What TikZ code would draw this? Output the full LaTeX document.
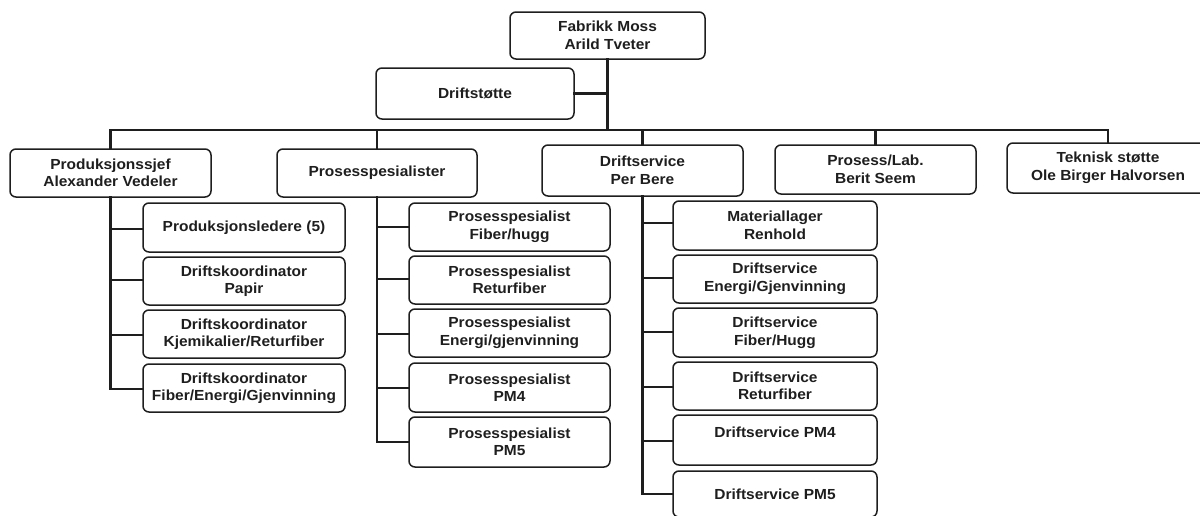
\documentclass[tikz,border=0pt]{standalone}
\usepackage{fontspec}
\setmainfont{Liberation Sans}[FakeStretch=1.06]
\definecolor{ink}{HTML}{1E1E1E}
\begin{document}
\begin{tikzpicture}[x=1pt,y=-1pt,
  box/.style={draw=ink,line width=1.5pt,rounded corners=6pt,rectangle,
    inner sep=0pt,align=center,text=ink,
    font=\fontsize{14.6}{17.5}\selectfont\bfseries,
    minimum width=#1,minimum height=48pt},
  box/.default=201pt,
  link/.style={draw=ink,line width=2.6pt,line cap=rect}]
\useasboundingbox (0,0) rectangle (1200,515);
\clip (0,0) rectangle (1200,515);
% top
\node[box=195pt,minimum height=47pt] (top) at (607.5,35.5) {Fabrikk Moss\\Arild Tveter};
\node[box=198pt,minimum height=51pt] (dst) at (475,93.5) {Driftstøtte};
% level 2
\node[box] (ps) at (110.5,173) {Produksjonssjef\\Alexander Vedeler};
\node[box=200pt] (pp) at (377,173) {Prosesspesialister};
\node[box,minimum height=51pt] (ds) at (642.5,170.5) {Driftservice\\Per Bere};
\node[box,minimum height=49pt] (pl) at (875.5,169.5) {Prosess/Lab.\\Berit Seem};
\node[box=202pt,minimum height=50pt] (ts) at (1108,168) {Teknisk støtte\\Ole Birger Halvorsen};
% level 3 left
\node[box=202pt,minimum height=49pt] (l1) at (244,227.5) {Produksjonsledere (5)};
\node[box=202pt] (l2) at (244,281) {Driftskoordinator\\Papir};
\node[box=202pt] (l3) at (244,334) {Driftskoordinator\\Kjemikalier/Returfiber};
\node[box=202pt] (l4) at (244,388) {Driftskoordinator\\Fiber/Energi/Gjenvinning};
% level 3 middle
\node[box] (m1) at (509.5,227) {Prosesspesialist\\Fiber/hugg};
\node[box] (m2) at (509.5,280) {Prosesspesialist\\Returfiber};
\node[box] (m3) at (509.5,333) {Prosesspesialist\\Energi/gjenvinning};
\node[box,minimum height=49pt] (m4) at (509.5,387.5) {Prosesspesialist\\PM4};
\node[box,minimum height=50pt] (m5) at (509.5,442) {Prosesspesialist\\PM5};
% level 3 right
\node[box=204pt,minimum height=49pt] (r1) at (775,225.5) {Materiallager\\Renhold};
\node[box=204pt] (r2) at (775,279) {Driftservice\\Energi/Gjenvinning};
\node[box=204pt,minimum height=49pt] (r3) at (775,332.5) {Driftservice\\Fiber/Hugg};
\node[box=204pt] (r4) at (775,386) {Driftservice\\Returfiber};
\node[box=204pt,minimum height=50pt] (r5) at (775,440) {Driftservice PM4\\[-2pt]\mbox{}};
\node[box=204pt,minimum height=46pt] (r6) at (775,494) {Driftservice PM5};
% bus
\coordinate (bus) at (0,130);
\draw[link] (top.south) -- (top.south |- bus);
\draw[link] (dst.east) -- (dst.east -| top.south);
\draw[link] (ps.north) -- (ps.north |- bus) -- (ts.north |- bus) -- (ts.north);
\draw[link] (pp.north |- bus) -- (pp.north);
\draw[link] (ds.north |- bus) -- (ds.north);
\draw[link] (pl.north |- bus) -- (pl.north);
% left column
\draw[link] (ps.south) -- (ps.south |- 0,389) -- (l4.west |- 0,389);
\foreach \y in {229,280,335}
  \draw[link] (ps.south |- 0,\y) -- (l1.west |- 0,\y);
% middle column
\draw[link] (pp.south) -- (pp.south |- 0,442) -- (m5.west |- 0,442);
\foreach \y in {227,279,334,388}
  \draw[link] (pp.south |- 0,\y) -- (m1.west |- 0,\y);
% right column
\draw[link] (ds.south) -- (ds.south |- 0,494) -- (r6.west |- 0,494);
\foreach \y in {223,278,332,387,441}
  \draw[link] (ds.south |- 0,\y) -- (r1.west |- 0,\y);
\end{tikzpicture}
\end{document}
